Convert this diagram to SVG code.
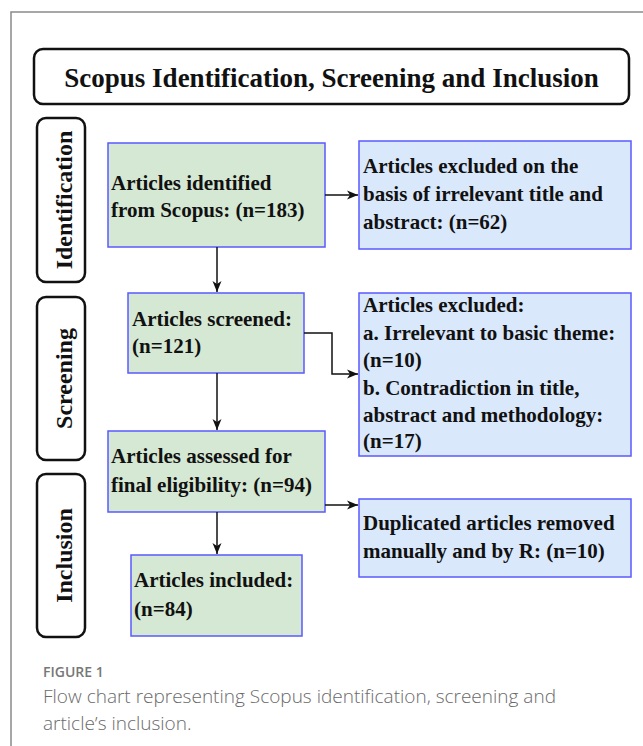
<svg xmlns="http://www.w3.org/2000/svg" width="643" height="746" viewBox="0 0 643 746">
<style>
.frame{fill:none;stroke:#8a8a8a;stroke-width:1.5}
.title{fill:#fff;stroke:#111;stroke-width:2.5}
.side{fill:#fff;stroke:#111;stroke-width:2.5}
.g{fill:#d5e8d4;stroke:#5a5aff;stroke-width:1.5}
.b{fill:#dae8fc;stroke:#5a5aff;stroke-width:1.5}
.t{font-family:"Liberation Serif","Times New Roman",serif;font-weight:bold;fill:#111}
.bt{font-size:21px}
.tt{font-size:27px}
.st{font-size:24px}
.conn{fill:none;stroke:#111;stroke-width:1.5}
.cap1{font-family:"Open Sans","Noto Sans",sans-serif;font-size:14px;fill:#777;font-weight:600}
.cap2{font-family:"Open Sans","Noto Sans",sans-serif;font-size:19px;fill:#6a6a6a;font-weight:300}
</style>
<defs>
<marker id="arr" markerWidth="12" markerHeight="10" refX="11" refY="5" orient="auto" markerUnits="userSpaceOnUse">
<path d="M0,0.5 L11,5 L0,9.5 L3,5 z" fill="#111"/>
</marker>
</defs>
<rect width="643" height="746" fill="#fff"/>
<path class="frame" d="M11,746 V12 H643"/>

<g id="title">
<rect class="title" x="34" y="49" width="595" height="55" rx="9"/>
<text class="t tt" x="331.5" y="87" text-anchor="middle">Scopus Identification, Screening and Inclusion</text>
</g>

<g id="stage-identification">
<rect class="side" x="37" y="118" width="48" height="164" rx="9"/>
<text class="t st" transform="translate(72,200) rotate(-90)" text-anchor="middle">Identification</text>
</g>
<g id="stage-screening">
<rect class="side" x="37" y="297" width="48" height="163" rx="9"/>
<text class="t st" transform="translate(72,378.5) rotate(-90)" text-anchor="middle">Screening</text>
</g>
<g id="stage-inclusion">
<rect class="side" x="37" y="474" width="48" height="163" rx="9"/>
<text class="t st" transform="translate(72,555.5) rotate(-90)" text-anchor="middle">Inclusion</text>
</g>

<g id="identified">
<rect class="g" x="108" y="143" width="217" height="104"/>
<text class="t bt" x="111" y="190">Articles identified</text>
<text class="t bt" x="111" y="217">from Scopus: (n=183)</text>
</g>
<g id="excluded1">
<rect class="b" x="359" y="141" width="272" height="108"/>
<text class="t bt" x="363" y="173">Articles excluded on the</text>
<text class="t bt" x="363" y="201">basis of irrelevant title and</text>
<text class="t bt" x="363" y="229">abstract: (n=62)</text>
</g>
<g id="screened">
<rect class="g" x="128" y="293" width="176" height="80"/>
<text class="t bt" x="132" y="326">Articles screened:</text>
<text class="t bt" x="132" y="353">(n=121)</text>
</g>
<g id="excluded2">
<rect class="b" x="359" y="293" width="272" height="163"/>
<text class="t bt" x="363" y="312">Articles excluded:</text>
<text class="t bt" x="363" y="340">a. Irrelevant to basic theme:</text>
<text class="t bt" x="363" y="367">(n=10)</text>
<text class="t bt" x="363" y="395">b. Contradiction in title,</text>
<text class="t bt" x="363" y="422">abstract and methodology:</text>
<text class="t bt" x="363" y="448">(n=17)</text>
</g>
<g id="assessed">
<rect class="g" x="108" y="431" width="217" height="81"/>
<text class="t bt" x="111" y="463">Articles assessed for</text>
<text class="t bt" x="111" y="492">final eligibility: (n=94)</text>
</g>
<g id="duplicates">
<rect class="b" x="359" y="499" width="272" height="78"/>
<text class="t bt" x="363" y="530">Duplicated articles removed</text>
<text class="t bt" x="363" y="558">manually and by R: (n=10)</text>
</g>
<g id="included">
<rect class="g" x="131" y="555" width="171" height="81"/>
<text class="t bt" x="134" y="587">Articles included:</text>
<text class="t bt" x="134" y="616">(n=84)</text>
</g>

<g id="connectors">
<path class="conn" d="M217,247 V292" marker-end="url(#arr)"/>
<path class="conn" d="M325,195 H358" marker-end="url(#arr)"/>
<path class="conn" d="M304,333 H332 V374 H358" marker-end="url(#arr)"/>
<path class="conn" d="M217,373 V430" marker-end="url(#arr)"/>
<path class="conn" d="M325,505 H358" marker-end="url(#arr)"/>
<path class="conn" d="M217,512 V554" marker-end="url(#arr)"/>
</g>

<g id="caption">
<text class="cap1" x="43" y="677">FIGURE 1</text>
<text class="cap2" x="43" y="703">Flow chart representing Scopus identification, screening and</text>
<text class="cap2" x="43" y="730">article’s inclusion.</text>
</g>
</svg>
